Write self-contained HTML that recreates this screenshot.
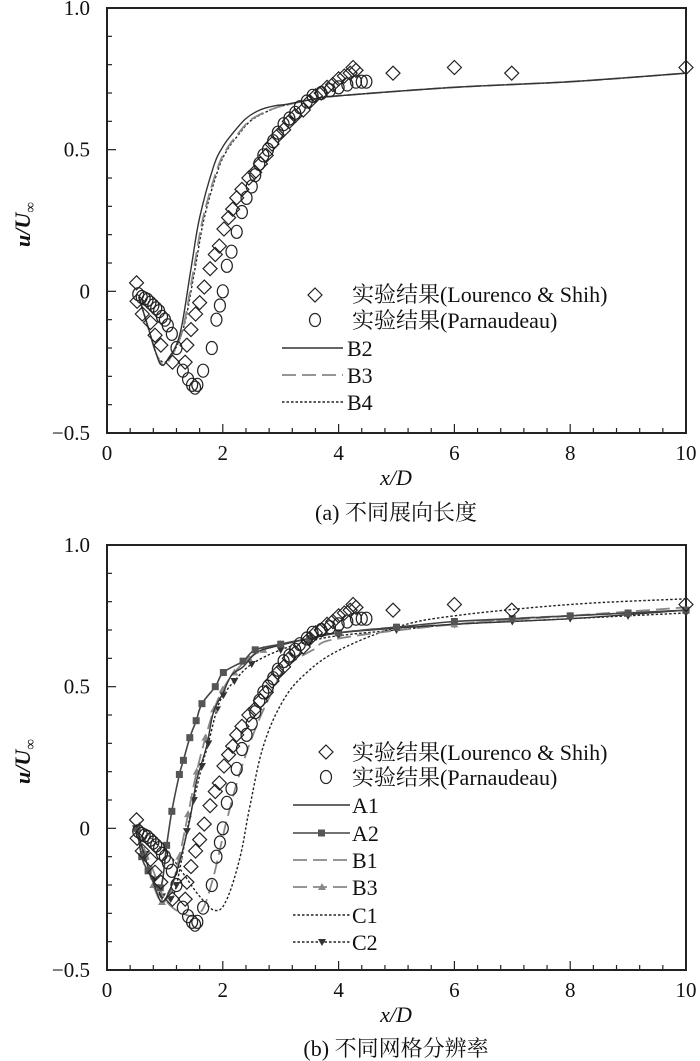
<!DOCTYPE html>
<html><head><meta charset="utf-8"><style>
html,body{margin:0;padding:0;background:#fff;}
svg{display:block;font-family:"Liberation Serif","Noto Serif CJK SC","Noto Sans CJK SC",serif;}
</style></head><body>
<svg id="chart" width="700" height="1061" viewBox="0 0 700 1061" xmlns="http://www.w3.org/2000/svg"></svg>
<script>
const xTicks=[0,2,4,6,8,10];
const yTicks=[-0.5,0,0.5,1.0];
const yTickLabels=["\u22120.5","0","0.5","1.0"];
const lourX=[0.51,0.52,0.61,0.75,0.83,0.93,1.13,1.35,1.38,1.45,1.53,1.6,1.68,1.78,1.87,1.94,2.02,2.1,2.17,2.24,2.33,2.45,2.55,2.65,2.75,2.85,2.95,3.05,3.15,3.25,3.39,3.5,3.6,3.7,3.8,3.9,4.0,4.1,4.2,4.25,4.3,4.94,6.0,6.99,10];
const lourY=[0.03,-0.035,-0.08,-0.11,-0.155,-0.19,-0.25,-0.25,-0.19,-0.135,-0.08,-0.04,0.015,0.08,0.13,0.16,0.22,0.26,0.29,0.33,0.36,0.4,0.42,0.45,0.48,0.52,0.55,0.57,0.6,0.62,0.64,0.67,0.69,0.7,0.72,0.73,0.75,0.76,0.77,0.79,0.78,0.77,0.79,0.77,0.79];
const parnX=[0.54,0.6,0.65,0.7,0.75,0.8,0.85,0.9,0.95,1.0,1.05,1.12,1.2,1.31,1.4,1.47,1.52,1.56,1.66,1.81,1.89,1.95,2.0,2.07,2.15,2.24,2.33,2.41,2.5,2.56,2.63,2.7,2.78,2.87,2.95,3.05,3.15,3.25,3.33,3.45,3.55,3.7,3.85,4.0,4.15,4.3,4.4,4.48];
const parnY=[-0.01,-0.02,-0.025,-0.03,-0.04,-0.05,-0.06,-0.07,-0.09,-0.1,-0.12,-0.15,-0.2,-0.28,-0.31,-0.33,-0.34,-0.33,-0.28,-0.2,-0.1,-0.05,0,0.09,0.14,0.21,0.28,0.33,0.37,0.41,0.45,0.48,0.5,0.53,0.56,0.59,0.61,0.63,0.65,0.67,0.69,0.7,0.71,0.72,0.73,0.74,0.74,0.74];
const b2X=[0.55,0.7,0.85,0.94,1.05,1.26,1.45,1.6,1.84,2.0,2.18,2.4,2.64,2.9,3.1,3.6,4,6,8,10];
const b2Y=[-0.02,-0.12,-0.22,-0.26,-0.24,-0.15,0.08,0.26,0.44,0.51,0.56,0.61,0.64,0.655,0.66,0.68,0.69,0.72,0.74,0.77];
const b3X=[0.55,0.7,0.85,0.97,1.08,1.3,1.5,1.66,1.9,2.06,2.24,2.45,2.7,2.95,3.15,3.6,4,6,8,10];
const b3Y=[-0.02,-0.12,-0.22,-0.26,-0.24,-0.14,0.08,0.26,0.43,0.5,0.55,0.6,0.63,0.65,0.66,0.68,0.69,0.72,0.74,0.77];
const b4X=[0.55,0.7,0.85,0.98,1.1,1.32,1.52,1.68,1.92,2.08,2.26,2.47,2.72,2.95,3.15,3.6,4,6,8,10];
const b4Y=[-0.02,-0.12,-0.22,-0.25,-0.23,-0.13,0.08,0.26,0.43,0.5,0.55,0.6,0.63,0.65,0.66,0.68,0.69,0.72,0.74,0.77];
const a1X=[0.5,0.7,0.85,0.95,1.08,1.25,1.43,1.55,1.72,1.84,2.01,2.15,2.35,2.58,2.87,3.5,4,6,8,10];
const a1Y=[0.0,-0.13,-0.22,-0.26,-0.22,-0.12,0.03,0.17,0.29,0.41,0.48,0.54,0.57,0.62,0.64,0.67,0.69,0.72,0.74,0.77];
const a2X=[0.52,0.6,0.71,0.92,1.03,1.12,1.25,1.32,1.43,1.54,1.64,1.87,2.01,2.35,2.56,3.0,3.5,4.0,5.0,6.0,7.0,8.0,9.0,10];
const a2Y=[0.0,-0.1,-0.15,-0.21,-0.06,0.06,0.19,0.24,0.32,0.38,0.44,0.5,0.55,0.59,0.63,0.65,0.67,0.69,0.71,0.73,0.74,0.75,0.76,0.77];
const b1X=[0.5,0.8,1.0,1.3,1.6,1.8,2.0,2.07,2.3,2.58,2.87,3.1,3.56,4,6,8,10];
const b1Y=[0,-0.15,-0.25,-0.3,-0.3,-0.2,-0.03,0.03,0.2,0.36,0.49,0.57,0.63,0.67,0.72,0.75,0.78];
const b3bX=[0.5,0.65,0.8,0.95,1.1,1.25,1.4,1.55,1.7,1.85,2.0,2.2,2.45,2.7,3.0,3.5,4,5,6,7,8,9,10];
const b3bY=[0.0,-0.1,-0.2,-0.26,-0.22,-0.1,0.05,0.2,0.32,0.42,0.49,0.55,0.6,0.63,0.65,0.67,0.69,0.71,0.72,0.74,0.75,0.76,0.77];
const c1X=[0.55,0.78,1.1,1.32,1.6,1.87,2.07,2.3,2.47,2.7,3.04,3.45,4.02,5,6,8,10];
const c1Y=[0.02,-0.04,-0.1,-0.16,-0.24,-0.29,-0.25,-0.1,0.08,0.29,0.45,0.55,0.63,0.71,0.75,0.79,0.81];
const c2X=[0.5,0.65,0.8,0.95,1.1,1.2,1.38,1.5,1.64,1.75,1.9,2.01,2.2,2.5,3.0,3.5,4.0,5.0,6.0,7.0,8.0,9.0,10];
const c2Y=[0.0,-0.09,-0.18,-0.24,-0.25,-0.2,-0.01,0.1,0.22,0.3,0.42,0.47,0.52,0.58,0.63,0.66,0.68,0.7,0.72,0.73,0.74,0.75,0.76];

const NS="http://www.w3.org/2000/svg";
const svg=document.getElementById('chart');
function el(tag,attrs,parent){const e=document.createElementNS(NS,tag);for(const k in attrs)e.setAttribute(k,attrs[k]);(parent||svg).appendChild(e);return e;}

function panel(top,bottom,pid){
  const L=107,R=686;
  const sx=v=>L+(R-L)*v/10;
  const sy=v=>bottom-(bottom-top)*(v+0.5)/1.5;
  const g=el('g',{});
  
  
  const fr=el('rect',{x:L,y:top,width:R-L,height:bottom-top,fill:'none',stroke:'#222','stroke-width':2},g);
  
  
  for(let v=0;v<=10.001;v+=0.4){const big=Math.abs(v/2-Math.round(v/2))<1e-6;el('line',{x1:sx(v),x2:sx(v),y1:bottom,y2:bottom-(big?9:5),stroke:'#222','stroke-width':1.2},g);}
  for(let i=0;i<=15;i++){const v=-0.5+i*0.1;const big=i%5==0;el('line',{x1:L,x2:L+(big?9:5),y1:sy(v),y2:sy(v),stroke:'#222','stroke-width':1.2},g);}
  xTicks.forEach(v=>{const t=el('text',{x:sx(v),y:bottom+27,'font-size':21,'text-anchor':'middle',fill:'#111'},g);t.textContent=v;
    
    });
  yTicks.forEach((v,i)=>{const t=el('text',{x:L-17,y:sy(v)+7,'font-size':21,'text-anchor':'end',fill:'#111'},g);t.textContent=yTickLabels[i];
    
    });
  const xt=el('text',{x:396,y:bottom+52,'font-size':22,'text-anchor':'middle','font-style':'italic',fill:'#111'},g);xt.textContent='x/D';
  
  
  const yt=el('text',{x:0,y:0,'font-size':22,'text-anchor':'middle','font-style':'italic','font-weight':'bold',fill:'#111',transform:`translate(30,${(top+bottom)/2+4}) rotate(-90)`},g);
  yt.innerHTML='u/U<tspan font-size="15" dy="5">\u221e</tspan>';
  
  
  return {sx,sy,g};
}
function line(p,X,Y,style,name){
  const P=X.map((x,i)=>[p.sx(x),p.sy(Y[i])]);
  let d='M'+P[0][0].toFixed(1)+' '+P[0][1].toFixed(1);
  for(let i=0;i<P.length-1;i++){
    const p0=P[Math.max(0,i-1)],p1=P[i],p2=P[i+1],p3=P[Math.min(P.length-1,i+2)];
    const t=0.18;
    const c1=[p1[0]+(p2[0]-p0[0])*t,p1[1]+(p2[1]-p0[1])*t];
    const c2=[p2[0]-(p3[0]-p1[0])*t,p2[1]-(p3[1]-p1[1])*t];
    d+=` C${c1[0].toFixed(1)} ${c1[1].toFixed(1)} ${c2[0].toFixed(1)} ${c2[1].toFixed(1)} ${p2[0].toFixed(1)} ${p2[1].toFixed(1)}`;
  }
  const e=el('path',Object.assign({d,fill:'none'},style),p.g);
  
  
}
function diamond(g,cx,cy){return el('path',{d:`M${cx} ${cy-7}L${cx+7} ${cy}L${cx} ${cy+7}L${cx-7} ${cy}Z`,fill:'none',stroke:'#222','stroke-width':1.2},g);}
function markers(p,X,Y,kind,name,fillc){
  X.forEach((x,i)=>{const cx=p.sx(x),cy=p.sy(Y[i]);let m;
    if(kind=='diamond')m=diamond(p.g,cx,cy);
    else if(kind=='circle')m=el('ellipse',{cx,cy,rx:5.5,ry:6.5,fill:'none',stroke:'#222','stroke-width':1.2},p.g);
    else if(kind=='square')m=el('rect',{x:cx-3.5,y:cy-3.5,width:7,height:7,fill:fillc},p.g);
    else if(kind=='tri')m=el('path',{d:`M${cx} ${cy-4}L${cx+4} ${cy+3}L${cx-4} ${cy+3}Z`,fill:fillc},p.g);
    else m=el('path',{d:`M${cx} ${cy+4}L${cx+4} ${cy-3}L${cx-4} ${cy-3}Z`,fill:fillc},p.g);
    
    
  });
}
function legText(g,x,y,s,name){const t=el('text',{x,y,'font-size':22,fill:'#111'},g);t.textContent=s;
  
  }
function caption(y,s,name){const t=el('text',{x:396,y,'font-size':22,'text-anchor':'middle',fill:'#111'});t.textContent=s;
  
  }

const solid={stroke:'#333','stroke-width':1.4};
const dashG={stroke:'#888','stroke-width':1.8,'stroke-dasharray':'14 6'};
const dot={stroke:'#222','stroke-width':1.4,'stroke-dasharray':'2.5 2'};

// Panel a
const pa=panel(8,433,'panel-a');
line(pa,b4X,b4Y,dot,'series-b4');
line(pa,b3X,b3Y,dashG,'series-b3');
line(pa,b2X,b2Y,solid,'series-b2');
markers(pa,parnX,parnY,'circle','parnaudeau-point');
markers(pa,lourX,lourY,'diamond','lourenco-point');
diamond(pa.g,315,295);
legText(pa.g,352,302,'实验结果(Lourenco & Shih)','legend-lourenco');
el('ellipse',{cx:315,cy:320,rx:5.5,ry:6.5,fill:'none',stroke:'#222','stroke-width':1.2},pa.g);
legText(pa.g,352,328,'实验结果(Parnaudeau)','legend-parnaudeau');
[[348,solid,'B2'],[375,dashG,'B3'],[402,dot,'B4']].forEach(([y,s,n])=>{
  el('line',Object.assign({x1:282,x2:343,y1:y,y2:y},s),pa.g);
  legText(pa.g,347,y+8,n,'legend-'+n.toLowerCase());
});
caption(520,'(a) 不同展向长度','caption-a');

// Panel b
const pb=panel(545,970,'panel-b');
line(pb,c1X,c1Y,dot,'series-c1');
line(pb,c2X,c2Y,dot,'series-c2');markers(pb,c2X,c2Y,'itri','c2-marker','#333');
line(pb,b1X,b1Y,dashG,'series-b1');
line(pb,b3bX,b3bY,dashG,'series-b3');markers(pb,b3bX,b3bY,'tri','b3-marker','#888');
line(pb,a1X,a1Y,solid,'series-a1');
line(pb,a2X,a2Y,{stroke:'#444','stroke-width':1.6},'series-a2');markers(pb,a2X,a2Y,'square','a2-marker','#555');
markers(pb,parnX,parnY,'circle','parnaudeau-point');
markers(pb,lourX,lourY,'diamond','lourenco-point');
diamond(pb.g,326,752);
legText(pb.g,352,760,'实验结果(Lourenco & Shih)','legend-lourenco');
el('ellipse',{cx:326,cy:777,rx:5.5,ry:6.5,fill:'none',stroke:'#222','stroke-width':1.2},pb.g);
legText(pb.g,352,785,'实验结果(Parnaudeau)','legend-parnaudeau');
const legB=[[805,solid,'A1',null],[833,{stroke:'#444','stroke-width':1.6},'A2','square'],[860,dashG,'B1',null],[887,dashG,'B3','tri'],[915,dot,'C1',null],[942,dot,'C2','itri']];
legB.forEach(([y,s,n,m])=>{
  el('line',Object.assign({x1:293,x2:350,y1:y,y2:y},s),pb.g);
  if(m=='square')el('rect',{x:318,y:y-3.5,width:7,height:7,fill:'#555'},pb.g);
  if(m=='tri')el('path',{d:`M322 ${y-4}L326 ${y+3}L318 ${y+3}Z`,fill:'#888'},pb.g);
  if(m=='itri')el('path',{d:`M322 ${y+4}L326 ${y-3}L318 ${y-3}Z`,fill:'#333'},pb.g);
  legText(pb.g,352,y+8,n,'legend-'+n.toLowerCase());
});
caption(1056,'(b) 不同网格分辨率','caption-b');
</script>
</body></html>
